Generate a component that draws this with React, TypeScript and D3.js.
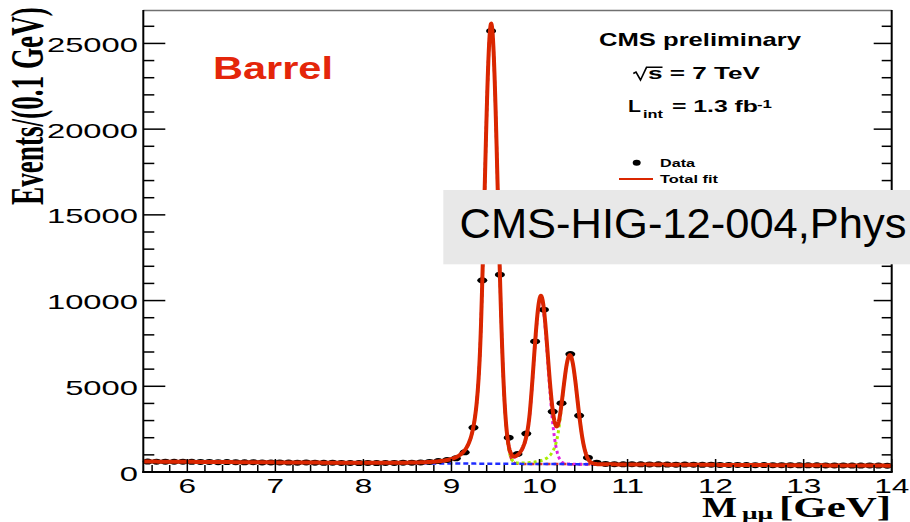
import React from 'react';
import * as d3 from 'd3';

// Dimuon invariant mass spectrum, barrel region, 0.1 GeV bins from 5.5 to 14 GeV
const binStart = 5.5;
const binWidth = 0.1;
const eventCounts = [
  610, 605, 600, 598, 600, 595, 590, 585, 575, 580,
  570, 565, 575, 560, 555, 560, 550, 545, 555, 540,
  535, 540, 530, 525, 520, 530, 520, 525, 530, 540,
  545, 560, 590, 640, 700, 800, 1150, 2590, 11180, 25730,
  11510, 2005, 1050, 2240, 7615, 9470, 3525, 4015, 6880, 3290,
  835, 545, 470, 455, 450, 455, 445, 440, 445, 435,
  430, 435, 425, 420, 425, 415, 410, 415, 405, 400,
  405, 398, 395, 400, 390, 388, 392, 385, 380, 385,
  378, 375, 380, 372, 370,
];

// Fit model: exponential background + three Crystal Ball peaks (1S, 2S, 3S)
const bkgNorm = 610;
const bkgSlope = 0.0588;
const peakMeans = [9.451, 10.015, 10.345];
const peakSigmas = [0.076, 0.081, 0.084];
const peakHeights = [25600, 9620, 6360];
const cbAlpha = 1.5;
const cbN = 3;

const xTickValues = [6, 7, 8, 9, 10, 11, 12, 13, 14];
const yTickValues = [0, 5000, 10000, 15000, 20000, 25000];

const SANS = "'Liberation Sans', Arial, Helvetica, sans-serif";
const SERIF = "'Liberation Serif', 'Times New Roman', serif";
const FIT_RED = '#da2600';

const x = d3.scaleLinear().domain([5.5, 14]).range([143.3, 891.7]);
const y = d3.scaleLinear().domain([0, 26950]).range([472, 10]);

function crystalBall(t: number): number {
  if (t > -cbAlpha) return Math.exp((-t * t) / 2);
  const a = Math.pow(cbN / cbAlpha, cbN) * Math.exp((-cbAlpha * cbAlpha) / 2);
  const b = cbN / cbAlpha - cbAlpha;
  return a * Math.pow(b - t, -cbN);
}
const bkg = (m: number) => bkgNorm * Math.exp(-bkgSlope * (m - binStart));
const peak = (i: number, m: number) => peakHeights[i] * crystalBall((m - peakMeans[i]) / peakSigmas[i]);

const massGrid = d3.range(5.5, 14.0001, 0.004);
const line = d3
  .line<number>()
  .x((m) => x(m))
  .curve(d3.curveLinear);

function curvePath(f: (m: number) => number) {
  return line.y((m) => y(f(m)))(massGrid) || '';
}

export default function App() {
  const [x0, x1] = x.range();
  const [yb, yt] = y.range();
  const xMinor = d3.range(5.6, 14, 0.2).filter((v) => Math.abs(v - Math.round(v)) > 0.01);
  const yMinor = d3.range(1000, 27000, 1000).filter((v) => v % 5000 !== 0);

  const data = eventCounts.map((c, i) => ({ m: binStart + binWidth * (i + 0.5), c }));

  return (
    <svg
      width={910}
      height={522}
      style={{ position: 'absolute', left: 0, top: 0, background: '#fff' }}
      xmlns="http://www.w3.org/2000/svg"
    >
      <defs>
        <clipPath id="frameClip">
          <rect x={x0} y={yt} width={x1 - x0} height={yb - yt} />
        </clipPath>
      </defs>
      <rect x={0} y={0} width={910} height={522} fill="#fff" />

      {/* fit components */}
      <g clipPath="url(#frameClip)" fill="none">
        <path d={curvePath((m) => bkg(m) + peak(0, m))} stroke="#e03030" strokeWidth={2.5} strokeDasharray="5 3" />
        <path d={curvePath((m) => bkg(m) + peak(0, m) + peak(2, m))} stroke="#a8ee00" strokeWidth={3} strokeDasharray="3 3" />
        <path d={curvePath((m) => bkg(m) + peak(0, m) + peak(1, m))} stroke="#e020e0" strokeWidth={3} strokeDasharray="3 3" />
        <path d={curvePath((m) => bkg(m))} stroke="#1f2cff" strokeWidth={2.5} strokeDasharray="5 3" />
      </g>

      {/* data */}
      <g fill="#000">
        {data.map((d, i) => (
          <ellipse key={i} cx={x(d.m)} cy={y(d.c)} rx={5} ry={3} />
        ))}
      </g>

      {/* total fit */}
      <path
        clipPath="url(#frameClip)"
        d={curvePath((m) => bkg(m) + peak(0, m) + peak(1, m) + peak(2, m))}
        fill="none"
        stroke={FIT_RED}
        strokeWidth={4}
        strokeLinejoin="round"
      />

      {/* frame */}
      <line x1={x0} x2={x1} y1={yt + 0.5} y2={yt + 0.5} stroke="#707070" strokeWidth={1.5} />
      <line x1={x1} x2={x1} y1={yt} y2={yb} stroke="#000" strokeWidth={2} />
      <line x1={x0} x2={x0} y1={yt} y2={yb + 1} stroke="#000" strokeWidth={2} />
      <line x1={x0 - 1} x2={x1 + 1} y1={yb} y2={yb} stroke="#000" strokeWidth={2} />

      {/* y ticks, left and right; x ticks */}
      <g stroke="#000" strokeWidth={1.5}>
        {yTickValues.map((v) => (
          <g key={'ym' + v}>
            <line x1={x0} x2={x0 + 22} y1={y(v)} y2={y(v)} />
            <line x1={x1} x2={x1 - 18} y1={y(v)} y2={y(v)} />
          </g>
        ))}
        {yMinor.map((v) => (
          <g key={'yn' + v}>
            <line x1={x0} x2={x0 + 11} y1={y(v)} y2={y(v)} />
            <line x1={x1} x2={x1 - 10} y1={y(v)} y2={y(v)} />
          </g>
        ))}
        {xTickValues.map((v) => (
          <line key={'xm' + v} x1={x(v)} x2={x(v)} y1={yb} y2={yb - 13} />
        ))}
        {xMinor.map((v) => (
          <line key={'xn' + v} x1={x(v)} x2={x(v)} y1={yb} y2={yb - 7} />
        ))}
      </g>

      {/* tick labels */}
      <g fontFamily={SANS} fontSize={21} fill="#000">
        {yTickValues.map((v) => (
          <text key={'yl' + v} transform={`translate(138,${y(v) + 8.5}) scale(1.56,1)`} textAnchor="end">
            {v}
          </text>
        ))}
        {xTickValues.map((v) => (
          <text key={'xl' + v} transform={`translate(${x(v)},493) scale(1.5,1)`} textAnchor="middle">
            {v}
          </text>
        ))}
      </g>

      {/* axis titles */}
      <text
        transform="translate(43,205) scale(1.72,1) rotate(-90)"
        fontFamily={SERIF}
        fontWeight="bold"
        fontSize={27.2}
        fill="#000"
      >
        Events/(0.1 GeV)
      </text>
      <g fontFamily={SERIF} fontWeight="bold" fill="#000">
        <text x={702} y={517} fontSize={30} textLength={35} lengthAdjust="spacingAndGlyphs">M</text>
        <text x={742} y={519} fontSize={16} textLength={31} lengthAdjust="spacingAndGlyphs">μμ</text>
        <text x={779} y={517} fontSize={30} textLength={112} lengthAdjust="spacingAndGlyphs">[GeV]</text>
      </g>

      {/* labels */}
      <text x={213} y={79} fontFamily={SANS} fontWeight="bold" fontSize={30.5} fill="#e4260a" textLength={120} lengthAdjust="spacingAndGlyphs">
        Barrel
      </text>
      <g fontFamily={SANS} fontWeight="bold" fill="#000">
        <text x={599} y={46} fontSize={18.6} textLength={202} lengthAdjust="spacingAndGlyphs">CMS preliminary</text>
        <path d="M633.3,73.5 L636,72 L640.5,80 L646.5,67.3 L662.5,67.3" fill="none" stroke="#000" strokeWidth={1.6} />
        <text x={648} y={79.3} fontSize={16.3} textLength={112} lengthAdjust="spacingAndGlyphs">s = 7 TeV</text>
        <text x={628} y={111.7} fontSize={16.3} textLength={13} lengthAdjust="spacingAndGlyphs">L</text>
        <text x={643} y={118} fontSize={11} textLength={20} lengthAdjust="spacingAndGlyphs">int</text>
        <text x={672} y={111.7} fontSize={16.3} textLength={86} lengthAdjust="spacingAndGlyphs">= 1.3 fb</text>
        <text x={757} y={107.5} fontSize={11} textLength={15} lengthAdjust="spacingAndGlyphs">-1</text>
      </g>

      {/* legend */}
      <ellipse cx={636.7} cy={162.7} rx={4} ry={3} fill="#000" />
      <line x1={619} x2={653} y1={179} y2={179} stroke={FIT_RED} strokeWidth={2} />
      <g fontFamily={SANS} fontWeight="bold" fontSize={10.2} fill="#000">
        <text x={660} y={166.7} textLength={35} lengthAdjust="spacingAndGlyphs">Data</text>
        <text x={660} y={183.3} textLength={58} lengthAdjust="spacingAndGlyphs">Total fit</text>
      </g>

      {/* reference banner */}
      <rect x={443.3} y={190} width={470} height={74.3} fill="#e8e8e8" />
      <text x={459.5} y={238.3} fontFamily={SANS} fontSize={42} fill="#000" textLength={447} lengthAdjust="spacingAndGlyphs">
        CMS-HIG-12-004,Phys
      </text>
    </svg>
  );
}
